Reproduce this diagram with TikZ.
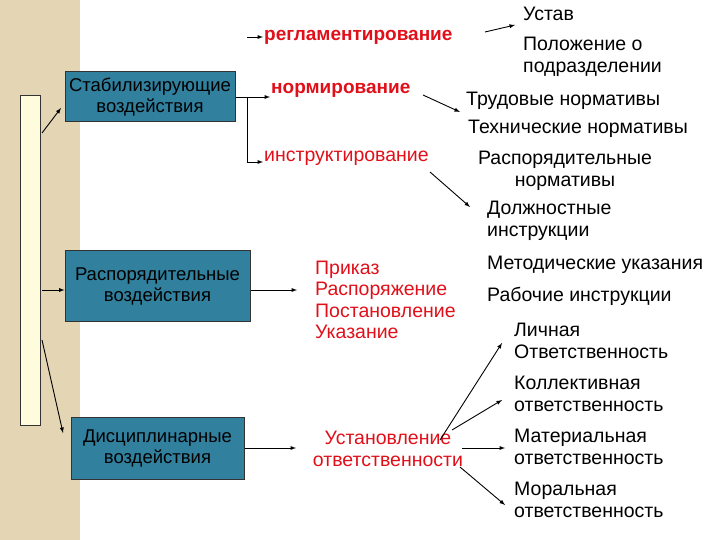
\documentclass[tikz,border=0pt]{standalone}
\usepackage{fontspec}
\setmainfont{Liberation Sans}
\begin{document}
\begin{tikzpicture}[x=1pt,y=-1pt,
  box/.style={draw=black!80,fill={rgb,255:red,48;green,128;blue,158},line width=1pt,align=center,font=\fontsize{18.5}{21}\selectfont,inner sep=1pt},
  red/.style={text={rgb,255:red,225;green,15;blue,25},font=\fontsize{19.5}{21.5}\selectfont,inner sep=1pt},
  blk/.style={font=\fontsize{19.5}{22}\selectfont,inner sep=1pt},
  arr/.style={-latex,line width=0.9pt}]
\useasboundingbox (0,0) rectangle (720,540);
\fill[fill={rgb,255:red,228;green,214;blue,180}] (0,0) rectangle (80,540);
\node[draw=black!80,fill={rgb,255:red,255;green,252;blue,222},minimum width=20,minimum height=330,inner sep=0] (bar) at (30,260) {};
\node[box,minimum width=170,minimum height=50] (stab) at (150,97) {Стабилизирующие\\воздействия};
\node[box,minimum width=185,minimum height=71] (rasp) at (157.5,286) {Распорядительные\\воздействия};
\node[box,minimum width=173,minimum height=62] (disc) at (157.5,448) {Дисциплинарные\\воздействия};
\coordinate (b1) at (42,133); \coordinate (b2) at (42,290); \coordinate (b3) at (42,340);
\draw[arr] (b1) -- (61,108);
\draw[arr] (b2) -- (rasp.west|-b2);
\draw[arr] (b3) -- (63,433);
\node[red,font=\bfseries\fontsize{19}{21}\selectfont,anchor=west] (regl) at (263,37) {регламентирование};
\node[red,font=\bfseries\fontsize{19}{21}\selectfont,anchor=west] (norm) at (270,90) {нормирование};
\node[red,anchor=west] (instr) at (263,158) {инструктирование};
\coordinate (br) at (247,97);
\draw[line width=0.9pt] (stab.east|-br) -- (br);
\draw[arr] (247,37) |- (regl.west);
\draw[arr] (br) -- (norm.west|-br);
\draw[arr] (247,97) |- (instr.west|-0,162);
\node[blk,anchor=west] (ustav) at (522,14) {Устав};
\node[blk,align=left,anchor=west] (pol) at (522,57) {Положение о\\подразделении};
\node[blk,anchor=west] (trud) at (465,101) {Трудовые нормативы};
\node[blk,anchor=west] (tech) at (467,129) {Технические нормативы};
\node[blk,align=center] (rn) at (565,171) {Распорядительные\\нормативы};
\node[blk,align=left,anchor=west] (dol) at (486,221) {Должностные\\инструкции};
\node[blk,anchor=west] (met) at (486,265) {Методические указания};
\node[blk,anchor=west] (rab) at (486,296) {Рабочие инструкции};
\draw[arr] (485,32) -- (515,25);
\draw[arr] (423,95) -- (460,112);
\draw[arr] (430,172) -- (470,207);
\node[red,align=left,anchor=west] (pr) at (314,300) {Приказ\\Распоряжение\\Постановление\\Указание};
\draw[arr] (rasp.east|-0,290) -- (297,290);
\node[red,align=center] (ust) at (388,449) {Установление\\ответственности};
\draw[arr] (disc.east|-0,448) -- (296,448);
\node[blk,align=left,anchor=west] (l1) at (513,341) {Личная\\Ответственность};
\node[blk,align=left,anchor=west] (l2) at (513,394) {Коллективная\\ответственность};
\node[blk,align=left,anchor=west] (l3) at (513,447) {Материальная\\ответственность};
\node[blk,align=left,anchor=west] (l4) at (513,500) {Моральная\\ответственность};
\draw[arr] (440,440) -- (502,343);
\draw[arr] (452,430) -- (502,400);
\draw[arr] (462,448) -- (505,448);
\draw[arr] (460,467) -- (505,505);
\end{tikzpicture}
\end{document}
